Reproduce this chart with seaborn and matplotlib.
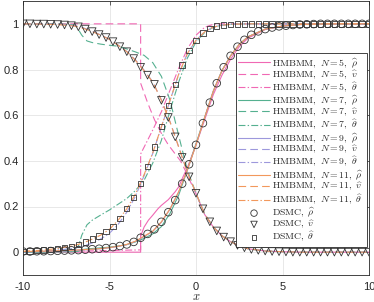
import numpy as np
import pandas as pd
import matplotlib
matplotlib.use("Agg")
import matplotlib.pyplot as plt
import seaborn as sns

# ---------------- data ----------------
# DSMC marker positions and values
x_dsmc = [-10, -9.6, -9.2, -8.8, -8.4, -8.0, -7.6, -7.2, -6.8, -6.4, -6.0, -5.6, -5.2, -4.8,
          -4.4, -4.0, -3.6, -3.2, -2.8, -2.4, -2.0, -1.6, -1.2, -0.8, -0.4, 0.0, 0.4, 0.8,
          1.2, 1.6, 2.0, 2.4, 2.8, 3.2, 3.6, 4.0, 4.4, 4.8, 5.2, 5.6, 6.0, 6.4, 6.8, 7.2,
          7.6, 8.0, 8.4, 8.8, 9.2, 9.6, 10]
rho_dsmc = [0.003, 0.003, 0.004, 0.004, 0.005, 0.006, 0.007, 0.008, 0.009, 0.011, 0.013, 0.015,
            0.018, 0.022, 0.027, 0.034, 0.045, 0.063, 0.080, 0.100, 0.133, 0.175, 0.228, 0.300,
            0.385, 0.470, 0.565, 0.655, 0.740, 0.810, 0.860, 0.900, 0.930, 0.952, 0.967, 0.977,
            0.984, 0.989, 0.992, 0.995, 0.997, 0.998, 0.999, 1.0, 1.0, 1.0, 1.0, 1.0, 1.0, 1.0, 1.0]
v_dsmc = [1.0, 1.0, 0.999, 0.999, 0.998, 0.997, 0.995, 0.992, 0.987, 0.977, 0.966, 0.953,
          0.940, 0.922, 0.900, 0.878, 0.848, 0.810, 0.775, 0.735, 0.665, 0.590, 0.505, 0.415,
          0.330, 0.258, 0.190, 0.133, 0.093, 0.066, 0.046, 0.030, 0.019, 0.012, 0.008, 0.005,
          0.003, 0.002, 0.001, 0.0, 0.0, 0.0, 0.0, 0.0, 0.0, 0.0, 0.0, 0.0, 0.0, 0.0, 0.0]
theta_dsmc = [0.004, 0.005, 0.007, 0.009, 0.012, 0.016, 0.020, 0.026, 0.033, 0.044, 0.057, 0.070,
              0.090, 0.113, 0.148, 0.190, 0.240, 0.300, 0.375, 0.460, 0.550, 0.643, 0.733, 0.820,
              0.882, 0.928, 0.960, 0.980, 0.990, 0.995, 0.998, 0.999, 1.0, 1.0, 1.0, 1.0, 1.0,
              1.0, 1.0, 1.0, 1.0, 1.0, 1.0, 1.0, 1.0, 1.0, 1.0, 1.0, 1.0, 1.0, 1.0]

# HMBMM N=5 (with sub-shock at x ~ -3.2)
x5_rho = [-10, -3.2, -3.2, -3.0, -2.75, -2.5, -2.2, -2.0, -1.6, -1.2, -1.0, -0.75, -0.5, 0.0,
          0.5, 1.0, 1.5, 2.0, 2.5, 3.0, 4.0, 5.0, 6.0, 7.0, 8.0, 10]
rho5 = [0.0, 0.0, 0.07, 0.11, 0.14, 0.162, 0.19, 0.205, 0.23, 0.265, 0.286, 0.33, 0.37, 0.47,
        0.58, 0.69, 0.775, 0.845, 0.9, 0.937, 0.975, 0.99, 0.997, 0.999, 1.0, 1.0]
x5_v = [-10, -3.2, -3.2, -2.8, -2.4, -2.0, -1.6, -1.2, -0.9, -0.6, 0.0, 0.5, 1.0, 1.5, 2.0,
        2.5, 3.0, 4.0, 5.0, 6.0, 10]
v5 = [1.0, 1.0, 0.74, 0.655, 0.58, 0.52, 0.47, 0.43, 0.40, 0.355, 0.255, 0.165, 0.11, 0.072,
      0.046, 0.027, 0.015, 0.005, 0.002, 0.0, 0.0]
x5_theta = [-10, -3.2, -3.2, -3.0, -2.5, -2.0, -1.5, -1.0, -0.5, 0.0, 0.5, 1.0, 1.5, 2.0, 10]
theta5 = [0.0, 0.01, 0.43, 0.46, 0.535, 0.615, 0.71, 0.805, 0.89, 0.95, 0.985, 0.998, 1.0, 1.0, 1.0]

# HMBMM N=7 (weak sub-shock near x ~ -6.8)
x7 = [-10, -9, -8, -7, -6.8, -6.6, -6.3, -6.0, -5.5, -5.0, -4.5, -4.0, -3.5, -3.0, -2.5, -2.0,
      -1.5, -1.0, -0.5, 0.0, 0.5, 1.0, 1.5, 2.0, 2.5, 3.0, 4.0, 5.0, 6.0, 7.0, 8.0, 10]
rho7 = [0.0, 0.0, 0.001, 0.002, 0.004, 0.011, 0.014, 0.016, 0.019, 0.022, 0.027, 0.033, 0.045,
        0.060, 0.080, 0.112, 0.170, 0.250, 0.360, 0.475, 0.59, 0.705, 0.795, 0.86, 0.91, 0.943,
        0.977, 0.99, 0.997, 0.999, 1.0, 1.0]
v7 = [1.0, 1.0, 1.0, 0.995, 0.975, 0.95, 0.925, 0.918, 0.911, 0.906, 0.902, 0.89, 0.877, 0.862,
      0.83, 0.77, 0.665, 0.51, 0.36, 0.258, 0.167, 0.11, 0.072, 0.046, 0.027, 0.015, 0.005,
      0.002, 0.0, 0.0, 0.0, 0.0]
theta7 = [0.002, 0.004, 0.008, 0.015, 0.025, 0.075, 0.12, 0.14, 0.163, 0.185, 0.21, 0.235, 0.27,
          0.315, 0.39, 0.49, 0.62, 0.745, 0.85, 0.92, 0.962, 0.985, 0.994, 0.998, 0.999, 1.0,
          1.0, 1.0, 1.0, 1.0, 1.0, 1.0]

# HMBMM N=9 and N=11 (shared grid)
x_l = [-10, -9, -8, -7, -6.5, -6, -5.5, -5, -4.5, -4, -3.5, -3, -2.5, -2, -1.5, -1, -0.5, 0,
       0.5, 1, 1.5, 2, 2.5, 3, 4, 5, 6, 7, 8, 10]
rho9 = [0.002, 0.003, 0.005, 0.008, 0.010, 0.012, 0.015, 0.019, 0.025, 0.033, 0.047, 0.068,
        0.091, 0.131, 0.188, 0.263, 0.36, 0.47, 0.59, 0.705, 0.795, 0.86, 0.91, 0.943, 0.977,
        0.99, 0.997, 0.999, 1.0, 1.0]
v9 = [1.0, 1.0, 0.998, 0.992, 0.982, 0.968, 0.951, 0.932, 0.907, 0.879, 0.842, 0.797, 0.746,
      0.667, 0.571, 0.461, 0.35, 0.258, 0.167, 0.11, 0.072, 0.046, 0.027, 0.015, 0.005, 0.002,
      0.0, 0.0, 0.0, 0.0]
theta9 = [0.002, 0.004, 0.009, 0.018, 0.027, 0.040, 0.058, 0.083, 0.122, 0.175, 0.245, 0.335,
          0.433, 0.548, 0.664, 0.779, 0.869, 0.928, 0.965, 0.986, 0.994, 0.998, 0.999, 1.0,
          1.0, 1.0, 1.0, 1.0, 1.0, 1.0]
rho11 = [0.003, 0.004, 0.006, 0.009, 0.011, 0.013, 0.016, 0.020, 0.026, 0.034, 0.048, 0.070,
         0.092, 0.133, 0.190, 0.265, 0.36, 0.47, 0.59, 0.705, 0.795, 0.86, 0.91, 0.943, 0.977,
         0.99, 0.997, 0.999, 1.0, 1.0]
v11 = [1.0, 0.999, 0.997, 0.99, 0.98, 0.966, 0.95, 0.932, 0.906, 0.878, 0.84, 0.795, 0.745,
       0.665, 0.57, 0.46, 0.35, 0.258, 0.167, 0.11, 0.072, 0.046, 0.027, 0.015, 0.005, 0.002,
       0.0, 0.0, 0.0, 0.0]
theta11 = [0.004, 0.008, 0.016, 0.030, 0.041, 0.057, 0.075, 0.100, 0.140, 0.190, 0.255, 0.340,
           0.435, 0.550, 0.665, 0.780, 0.870, 0.928, 0.965, 0.986, 0.994, 0.998, 0.999, 1.0,
           1.0, 1.0, 1.0, 1.0, 1.0, 1.0]

# ---------------- style ----------------
sns.set_theme(style="white")
plt.rcParams["font.family"] = ["Liberation Sans", "DejaVu Sans"]
plt.rcParams["mathtext.fontset"] = "cm"
plt.rcParams["axes.unicode_minus"] = False
plt.rcParams["lines.scale_dashes"] = False

col5, col7, col9, col11 = "#f068b4", "#55b090", "#9d98dc", "#f2985c"
ls_solid = "-"
ls_dash = (0, (5.5, 3.0))
ls_dashdot = (0, (5.0, 1.6, 1.0, 1.6))
lw = 0.8

fig = plt.figure(figsize=(3.74, 3.02), dpi=100)
ax = fig.add_axes([23 / 374, 27 / 302, 346 / 374, 274 / 302])

curves = [
    (x5_rho, rho5, col5, ls_solid, r"$\mathrm{HMBMM},\ N=5,\ \widehat{\rho}$"),
    (x5_v, v5, col5, ls_dash, r"$\mathrm{HMBMM},\ N=5,\ \widehat{v}$"),
    (x5_theta, theta5, col5, ls_dashdot, r"$\mathrm{HMBMM},\ N=5,\ \widehat{\theta}$"),
    (x7, rho7, col7, ls_solid, r"$\mathrm{HMBMM},\ N=7,\ \widehat{\rho}$"),
    (x7, v7, col7, ls_dash, r"$\mathrm{HMBMM},\ N=7,\ \widehat{v}$"),
    (x7, theta7, col7, ls_dashdot, r"$\mathrm{HMBMM},\ N=7,\ \widehat{\theta}$"),
    (x_l, rho9, col9, ls_solid, r"$\mathrm{HMBMM},\ N=9,\ \widehat{\rho}$"),
    (x_l, v9, col9, ls_dash, r"$\mathrm{HMBMM},\ N=9,\ \widehat{v}$"),
    (x_l, theta9, col9, ls_dashdot, r"$\mathrm{HMBMM},\ N=9,\ \widehat{\theta}$"),
    (x_l, rho11, col11, ls_solid, r"$\mathrm{HMBMM},\ N=11,\ \widehat{\rho}$"),
    (x_l, v11, col11, ls_dash, r"$\mathrm{HMBMM},\ N=11,\ \widehat{v}$"),
    (x_l, theta11, col11, ls_dashdot, r"$\mathrm{HMBMM},\ N=11,\ \widehat{\theta}$"),
]
for xs, ys, c, ls, lab in curves:
    sns.lineplot(x=xs, y=ys, ax=ax, color=c, linestyle=ls, linewidth=lw, label=lab,
                 estimator=None, sort=False)

mk_edge = "#333333"
sns.scatterplot(x=x_dsmc, y=rho_dsmc, ax=ax, marker="o", s=30, facecolor="none",
                edgecolor=mk_edge, linewidth=0.6, label=r"$\mathrm{DSMC},\ \widehat{\rho}$", zorder=3)
sns.scatterplot(x=x_dsmc, y=v_dsmc, ax=ax, marker="v", s=30, facecolor="none",
                edgecolor=mk_edge, linewidth=0.6, label=r"$\mathrm{DSMC},\ \widehat{v}$", zorder=3)
sns.scatterplot(x=x_dsmc, y=theta_dsmc, ax=ax, marker="s", s=15, facecolor="none",
                edgecolor=mk_edge, linewidth=0.6, label=r"$\mathrm{DSMC},\ \widehat{\theta}$", zorder=3)

ax.set_xlim(-10, 10)
ax.set_ylim(-0.1, 1.1)
ax.set_xticks([-10, -5, 0, 5, 10])
ax.set_xticklabels(["-10", "-5", "0", "5", "10"])
ax.set_yticks([0, 0.2, 0.4, 0.6, 0.8, 1.0])
ax.set_yticklabels(["0", "0.2", "0.4", "0.6", "0.8", "1"])
ax.tick_params(direction="in", length=3, width=0.5, labelsize=8, colors="#262626",
               top=True, right=True)
ax.tick_params(axis="x", pad=5)
ax.tick_params(axis="y", pad=3)
ax.grid(True, color="#e4e4e4", linewidth=0.6)
for sp in ax.spines.values():
    sp.set_color("#262626")
    sp.set_linewidth(0.6)
ax.set_xlabel(r"$x$", fontsize=9, labelpad=-1, color="#262626")
ax.set_ylabel("")

leg = ax.legend(loc="upper right", bbox_to_anchor=(0.993, 0.81), borderaxespad=0,
                fontsize=7.0, frameon=True, fancybox=False, framealpha=1,
                edgecolor="#262626", handlelength=3.2, handletextpad=0.3,
                labelspacing=-0.08, borderpad=0.3, markerscale=0.85)
leg.get_frame().set_linewidth(0.6)

fig.savefig("out.png", dpi=100)
